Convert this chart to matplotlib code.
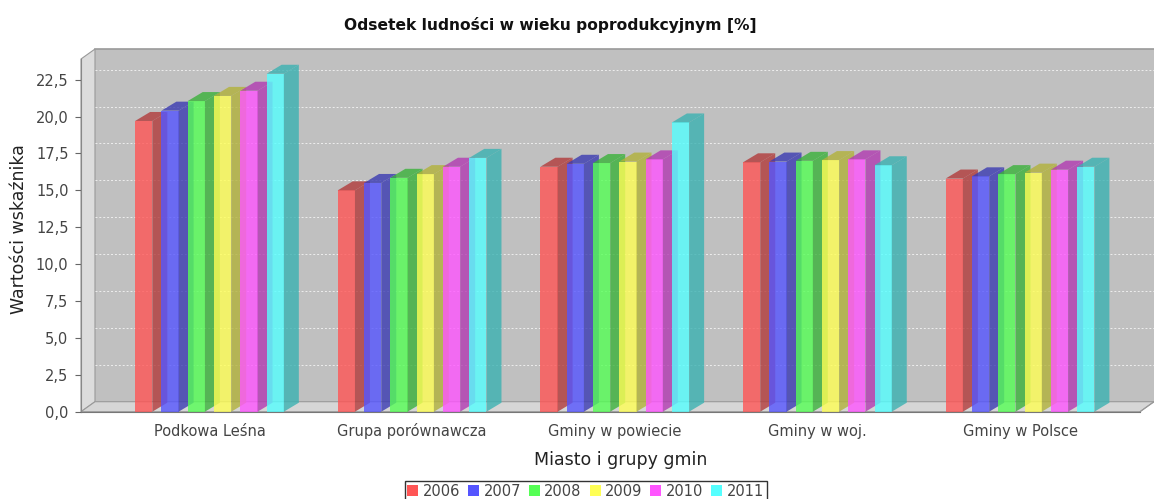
import matplotlib
matplotlib.use("Agg")
from matplotlib import pyplot as plt
from matplotlib.patches import Polygon, Rectangle, Patch

# data
categories = ["Podkowa Leśna", "Grupa porównawcza", "Gminy w powiecie", "Gminy w woj.", "Gminy w Polsce"]
years = ["2006", "2007", "2008", "2009", "2010", "2011"]
v2006 = [19.7, 15.0, 16.6, 16.9, 15.8]
v2007 = [20.4, 15.5, 16.8, 16.95, 15.95]
v2008 = [21.05, 15.85, 16.85, 17.0, 16.1]
v2009 = [21.4, 16.1, 16.95, 17.05, 16.2]
v2010 = [21.75, 16.6, 17.1, 17.1, 16.4]
v2011 = [22.9, 17.2, 19.6, 16.7, 16.6]
series = [v2006, v2007, v2008, v2009, v2010, v2011]
yticks = [0, 2.5, 5, 7.5, 10, 12.5, 15, 17.5, 20, 22.5]

colors = ["#ff5555", "#5555ff", "#55ff55", "#ffff55", "#ff55ff", "#55ffff"]
side_colors = ["#b23b3b", "#3b3bb2", "#3bb23b", "#b2b23b", "#b23bb2", "#3bb2b2"]

W, H = 1154, 499
fig = plt.figure(figsize=(W / 100, H / 100), dpi=100)
fig.patch.set_facecolor("white")

# front frame of the plot, in pixels
left, right, top, bottom = 81, 1140, 59, 411.7
ax = fig.add_axes([left / W, (H - bottom) / H, (right - left) / W, (bottom - top) / H])
ax.set_facecolor("none")
x0, x1 = -0.634, 4.592
y0, y1 = 0, 23.9
ax.set_xlim(x0, x1)
ax.set_ylim(y0, y1)

# 3d offsets in pixels -> data units
wall_dx, wall_dy = 14, 10
bar_dx, bar_dy = 15, 9
ppx = (x1 - x0) / (right - left)
ppy = (y1 - y0) / (bottom - top)
wdx, wdy = wall_dx * ppx, wall_dy * ppy
bdx, bdy = bar_dx * ppx, bar_dy * ppy

wall_kw = dict(clip_on=False, linewidth=0.8)
# back wall
ax.add_patch(Polygon([(x0 + wdx, wdy), (x1 + wdx, wdy), (x1 + wdx, y1 + wdy), (x0 + wdx, y1 + wdy)],
                     closed=True, facecolor="#c0c0c0", edgecolor="#c0c0c0", zorder=0, **wall_kw))
# left wall and floor
ax.add_patch(Polygon([(x0, 0), (x0 + wdx, wdy), (x0 + wdx, y1 + wdy), (x0, y1)],
                     closed=True, facecolor="#dcdcdc", edgecolor="#999999", zorder=0, **wall_kw))
ax.add_patch(Polygon([(x0, 0), (x1, 0), (x1 + wdx, wdy), (x0 + wdx, wdy)],
                     closed=True, facecolor="#d6d6d6", edgecolor="#999999", zorder=0, **wall_kw))
# top edge of back wall
ax.plot([x0 + wdx, x1 + wdx], [y1 + wdy, y1 + wdy], color="#9a9a9a", lw=1.2, clip_on=False, zorder=0.5)

# gridlines on the back wall
for t in yticks[1:]:
    ax.plot([x0 + wdx, x1 + wdx], [t + wdy, t + wdy], color="#eeeeee", lw=0.7,
            linestyle=(0, (2, 2)), clip_on=False, zorder=0.5)

# bars
pitch = 26.3 / 202.6
bw = 17.2 / 202.6
span = pitch * (len(series) - 1) + bw
for i in range(len(categories)):
    for j, vals in enumerate(series):
        v = vals[i]
        xl = i - span / 2 + j * pitch
        xr = xl + bw
        ax.add_patch(Rectangle((xl, 0), bw, v, facecolor=colors[j], alpha=0.8,
                               edgecolor="none", zorder=1, clip_on=False))
        ax.add_patch(Polygon([(xr, 0), (xr + bdx, bdy), (xr + bdx, v + bdy), (xr, v)], closed=True,
                             facecolor=side_colors[j], alpha=0.8, edgecolor="none", zorder=1, clip_on=False))
        ax.add_patch(Polygon([(xl, v), (xl + bdx, v + bdy), (xr + bdx, v + bdy), (xr, v)], closed=True,
                             facecolor=side_colors[j], alpha=0.8, edgecolor="none", zorder=1, clip_on=False))

# axes styling
for s in ["top", "right"]:
    ax.spines[s].set_visible(False)
ax.spines["left"].set_color("#888888")
ax.spines["bottom"].set_color("#777777")
ax.spines["left"].set_zorder(3)
ax.spines["bottom"].set_zorder(3)
ax.plot([x1, x1 + wdx], [0, wdy], color="#999999", lw=0.8, clip_on=False, zorder=3)

ax.set_yticks(yticks)
ax.set_yticklabels([("%.1f" % t).replace(".", ",") for t in yticks])
ax.set_xticks(range(len(categories)))
ax.set_xticklabels(categories)
ax.tick_params(axis="y", length=4, color="#666666", labelcolor="#444444", labelsize=10.5, pad=5)
ax.tick_params(axis="x", length=0, labelcolor="#444444", labelsize=10.5, pad=0)
# common baseline for the category labels
for lab in ax.get_xticklabels():
    lab.set_verticalalignment("baseline")
    lab.set_y(-24.5 / (bottom - top))

fig.text(550 / W, 1 - 25 / H, "Odsetek ludności w wieku poprodukcyjnym [%]", ha="center", va="center",
         fontsize=11.2, fontweight="bold", color="#111111")
fig.text(621 / W, 1 - 460 / H, "Miasto i grupy gmin", ha="center", va="center", fontsize=12.5, color="#222222")
fig.text(19 / W, 1 - 229 / H, "Wartości wskaźnika", ha="center", va="center", rotation=90,
         fontsize=12.5, color="#222222")

handles = [Patch(facecolor=c, edgecolor="none") for c in colors]
leg = fig.legend(handles, years, loc="center", bbox_to_anchor=(585.6 / W, 1 - 491 / H), ncol=6,
                 fontsize=10.5, frameon=True, fancybox=False, handlelength=0.75, handleheight=0.75,
                 handletextpad=0.3, columnspacing=0.55, borderpad=0.2, labelcolor="#444444")
leg.get_frame().set_edgecolor("black")
leg.get_frame().set_linewidth(1.0)

fig.savefig("out.png", dpi=100)
